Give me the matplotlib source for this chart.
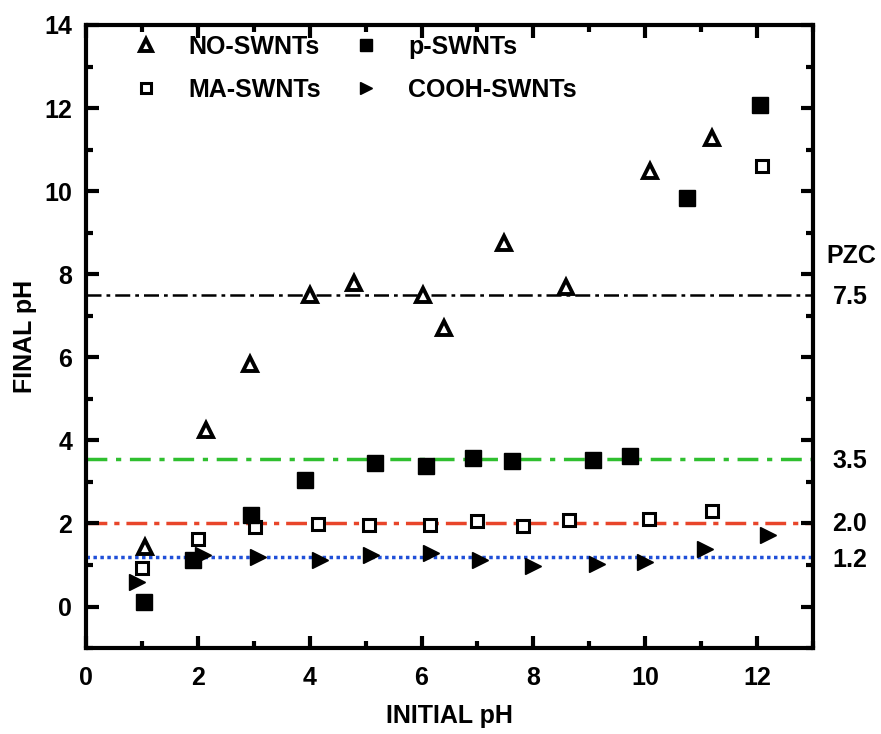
import matplotlib
matplotlib.use('Agg')
import matplotlib.pyplot as plt
from matplotlib.ticker import MultipleLocator

plt.rcParams['font.family'] = ['Liberation Sans', 'DejaVu Sans']
plt.rcParams['font.weight'] = 'bold'

# NO-SWNTs (open triangles)
no_x = [1.06, 2.15, 2.93, 4.0, 4.8, 6.03, 6.4, 7.48, 8.59, 10.09, 11.2]
no_y = [1.43, 4.24, 5.84, 7.5, 7.8, 7.5, 6.7, 8.76, 7.7, 10.48, 11.28]

# p-SWNTs (filled squares)
p_x = [1.04, 1.91, 2.95, 3.92, 5.17, 6.08, 6.92, 7.62, 9.07, 9.73, 10.75, 12.06]
p_y = [0.12, 1.11, 2.2, 3.05, 3.46, 3.39, 3.58, 3.51, 3.54, 3.63, 9.83, 12.08]

# MA-SWNTs (open squares)
ma_x = [1.0, 2.0, 3.02, 4.15, 5.06, 6.15, 6.99, 7.82, 8.63, 10.07, 11.2, 12.09]
ma_y = [0.94, 1.62, 1.91, 1.99, 1.96, 1.96, 2.06, 1.94, 2.08, 2.11, 2.3, 10.6]

# COOH-SWNTs (right triangles)
cooh_x = [0.91, 2.09, 3.08, 4.19, 5.1, 6.17, 7.05, 8.0, 9.14, 10.0, 11.07, 12.2]
cooh_y = [0.6, 1.25, 1.19, 1.11, 1.23, 1.28, 1.11, 0.97, 1.02, 1.07, 1.38, 1.72]

# PZC reference lines
pzc_vals = [7.5, 3.55, 2.0, 1.2]
pzc_labels = ['7.5', '3.5', '2.0', '1.2']
pzc_colors = ['black', '#2fbf2f', '#e8452a', '#1f4fd8']
pzc_styles = [(0, (6, 2, 1.5, 2)), (0, (6, 2.5, 1.5, 2.5)), (0, (6, 2, 1.5, 2)), (0, (1, 1))]

fig = plt.figure(figsize=(8.81, 7.34), dpi=100)
ax = fig.add_axes([0.0976, 0.117, 0.8252, 0.849])

for v, c, ls in zip(pzc_vals, pzc_colors, pzc_styles):
    lw = 2.5 if c != 'black' else 1.8
    ax.axhline(v, color=c, linestyle=ls, linewidth=lw, zorder=1)

ax.plot(no_x, no_y, '^', ms=10, mfc='white', mec='black', mew=2.8,
        label='NO-SWNTs', zorder=3)
ax.plot(ma_x, ma_y, 's', ms=8, mfc='white', mec='black', mew=2.2,
        label='MA-SWNTs', zorder=3)
ax.plot(p_x, p_y, 's', ms=11, color='black', label='p-SWNTs', zorder=3)
ax.plot(cooh_x, cooh_y, '>', ms=11, color='black', label='COOH-SWNTs', zorder=3)

ax.set_xlim(0, 13)
ax.set_ylim(-1, 14)
ax.xaxis.set_major_locator(MultipleLocator(2))
ax.xaxis.set_minor_locator(MultipleLocator(1))
ax.yaxis.set_major_locator(MultipleLocator(2))
ax.yaxis.set_minor_locator(MultipleLocator(1))
ax.tick_params(which='both', direction='in', top=True, right=True,
               labelsize=18, width=3)
ax.tick_params(axis='x', which='major', pad=13)
ax.tick_params(axis='y', which='major', pad=10)
ax.tick_params(which='major', length=9)
ax.tick_params(which='minor', length=5)
for lab in ax.get_xticklabels() + ax.get_yticklabels():
    lab.set_fontweight('bold')
for s in ax.spines.values():
    s.set_linewidth(3)

ax.set_xlabel('INITIAL pH', fontsize=18, fontweight='bold', labelpad=10)
ax.set_ylabel('FINAL pH', fontsize=18, fontweight='bold', labelpad=5)

ax.text(1.018, 8.45, 'PZC', transform=ax.get_yaxis_transform(),
        fontsize=18, fontweight='bold', va='center', ha='left')
label_y = [7.45, 3.5, 1.98, 1.12]
for v, t in zip(label_y, pzc_labels):
    ax.text(1.027, v, t, transform=ax.get_yaxis_transform(),
            fontsize=18, fontweight='bold', va='center', ha='left')

leg = ax.legend(loc='upper left', ncol=2, frameon=False, fontsize=18,
                bbox_to_anchor=(0.027, 1.02), handlelength=1.4,
                handletextpad=1.0, columnspacing=1.1, labelspacing=0.75,
                markerscale=0.85)

fig.savefig('out.png', dpi=100)
